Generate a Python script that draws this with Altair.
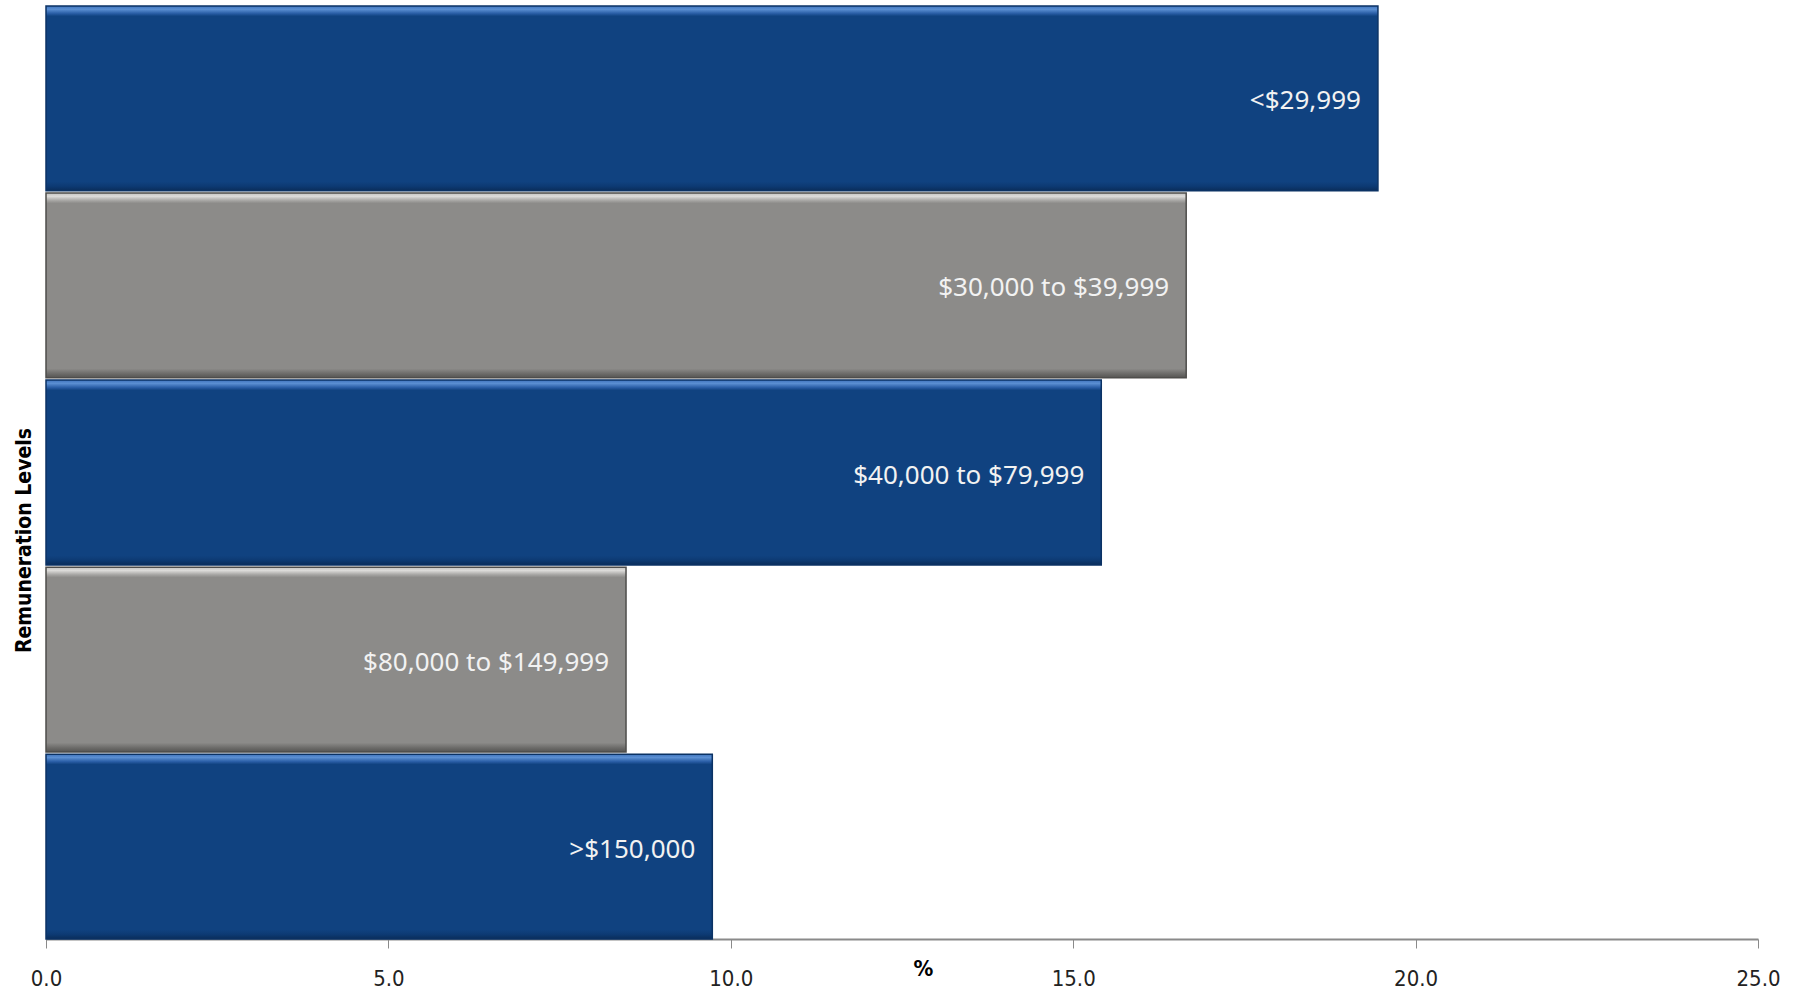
import altair as alt
import pandas as pd

categories = ["<$29,999", "$30,000 to $39,999", "$40,000 to $79,999", "$80,000 to $149,999", ">$150,000"]
values = [19.45, 16.65, 15.41, 8.47, 9.73]
groups = ["blue", "grey", "blue", "grey", "blue"]

df = pd.DataFrame({"cat": categories, "val": values, "grp": groups})

blue_grad = {
    "gradient": "linear", "x1": 0, "y1": 0, "x2": 0, "y2": 1,
    "stops": [
        {"offset": 0.0, "color": "#3f74bd"},
        {"offset": 0.018, "color": "#5b8fd2"},
        {"offset": 0.04, "color": "#2a5ea6"},
        {"offset": 0.055, "color": "#104280"},
        {"offset": 0.95, "color": "#104280"},
        {"offset": 0.975, "color": "#0d3a73"},
        {"offset": 1.0, "color": "#0a2d5a"},
    ],
}
grey_grad = {
    "gradient": "linear", "x1": 0, "y1": 0, "x2": 0, "y2": 1,
    "stops": [
        {"offset": 0.0, "color": "#c4c3c1"},
        {"offset": 0.018, "color": "#dcdbd9"},
        {"offset": 0.04, "color": "#a8a7a5"},
        {"offset": 0.055, "color": "#8c8b89"},
        {"offset": 0.95, "color": "#8c8b89"},
        {"offset": 0.975, "color": "#6f6e6c"},
        {"offset": 1.0, "color": "#555452"},
    ],
}

y_enc = alt.Y(
    "cat:N", sort=categories,
    scale=alt.Scale(paddingInner=0.012, paddingOuter=0.0),
    axis=alt.Axis(
        title="Remuneration Levels", labels=False, ticks=False, domain=False,
        titleFont="DejaVu Sans Condensed", titleFontSize=21, titleFontWeight="bold",
        titleColor="#000000", titleX=-12, titleY=534,
    ),
)
x_enc = alt.X(
    "val:Q",
    scale=alt.Scale(domain=[0, 25], nice=False),
    axis=alt.Axis(
        title="%", values=[0, 5, 10, 15, 20, 25], format=".1f", grid=False,
        domainColor="#8a8a8a", domainWidth=2, tickColor="#8a8a8a", tickSize=9, tickWidth=1,
        labelFont="DejaVu Sans Condensed", labelFontSize=22, labelColor="#222222", labelPadding=20,
        labelFlush=False,
        titleFont="DejaVu Sans Condensed", titleFontSize=22, titleFontWeight="bold",
        titleColor="#000000", titleX=877, titleY=29, titleBaseline="middle",
    ),
)

base = alt.Chart(df)

blue_bars = base.transform_filter(alt.datum.grp == "blue").mark_bar(
    fill=blue_grad, stroke="#0b3264", strokeWidth=1.5
).encode(x=x_enc, y=y_enc)

grey_bars = base.transform_filter(alt.datum.grp == "grey").mark_bar(
    fill=grey_grad, stroke="#4e4d4b", strokeWidth=1.5
).encode(x=x_enc, y=y_enc)

labels = base.mark_text(
    align="right", baseline="middle", dx=-17, dy=3, color="#f2f2f2",
    font="Noto Sans", fontSize=26
).encode(x="val:Q", y=alt.Y("cat:N", sort=categories), text="cat:N")

chart = alt.layer(blue_bars, grey_bars, labels).properties(
    width=1712, height=933,
    autosize=alt.AutoSizeParams(type="none"),
    padding={"left": 46, "top": 6, "right": 44, "bottom": 54},
).configure(background="white").configure_view(strokeWidth=0, stroke="transparent")

chart.save("out.html", embed_options={"renderer": "svg", "actions": False})
